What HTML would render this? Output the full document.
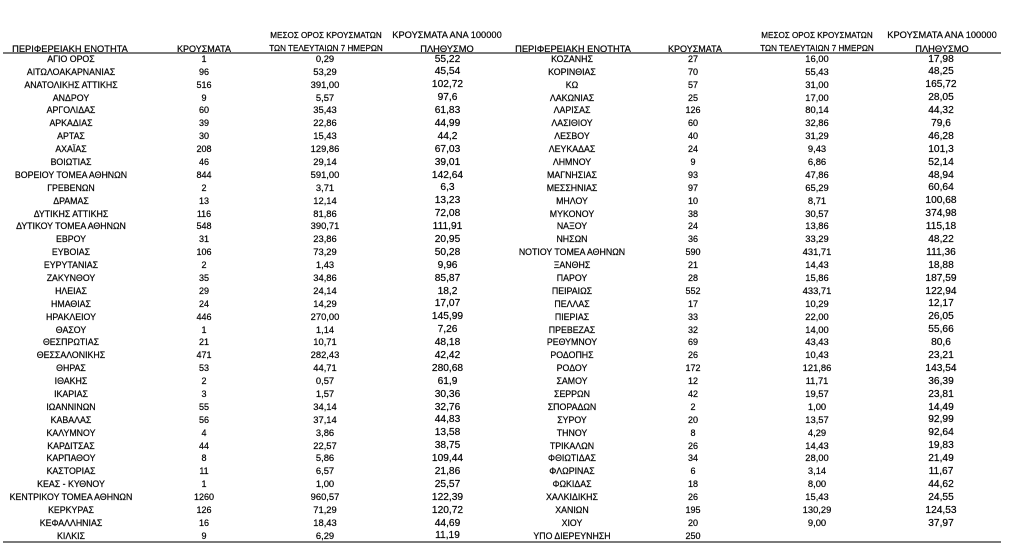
<!DOCTYPE html>
<html><head><meta charset="utf-8">
<style>
html,body{margin:0;padding:0;background:#fff;}
body{width:1014px;height:552px;position:relative;overflow:hidden;font-family:"Liberation Sans",Arial,sans-serif;color:#000;-webkit-text-stroke:0.2px #000;}
.h{position:absolute;text-align:center;white-space:nowrap;line-height:12px;}
.line{position:absolute;left:3px;width:998px;height:2px;background:#7a7a7a;}
.tb{position:absolute;top:52.85px;}
.r{display:flex;height:12.9px;line-height:12.9px;white-space:nowrap;}
.r span{display:block;text-align:center;overflow:visible;}
.a{font-size:8.8px;}
.b{font-size:9px;}
.c{font-size:9.4px;}
.d{font-size:10.2px;position:relative;top:0.7px;}
#L{left:0;} #L .a{width:142px;} #L .b{width:124px;} #L .c{width:118px;} #L .d{width:127px;}
#R{left:511px;} #R .a{width:122px;} #R .b{width:120px;} #R .c{width:128px;} #R .d{width:120px;}
</style></head><body>
<div class="h" style="left:0;width:140px;top:42.5px;font-size:9.3px;">ΠΕΡΙΦΕΡΕΙΑΚΗ ΕΝΟΤΗΤΑ</div>
<div class="h" style="left:144px;width:120px;top:42.5px;font-size:9px;">ΚΡΟΥΣΜΑΤΑ</div>
<div class="h" style="left:266px;width:120px;top:30px;font-size:8.1px;">ΜΕΣΟΣ ΟΡΟΣ ΚΡΟΥΣΜΑΤΩΝ</div>
<div class="h" style="left:266px;width:120px;top:42.5px;font-size:8.1px;">ΤΩΝ ΤΕΛΕΥΤΑΙΩΝ 7 ΗΜΕΡΩΝ</div>
<div class="h" style="left:387px;width:120px;top:29px;font-size:9.3px;">ΚΡΟΥΣΜΑΤΑ ΑΝΑ 100000</div>
<div class="h" style="left:387px;width:120px;top:42.5px;font-size:9.3px;">ΠΛΗΘΥΣΜΟ</div>

<div class="h" style="left:503px;width:140px;top:42.5px;font-size:9.3px;">ΠΕΡΙΦΕΡΕΙΑΚΗ ΕΝΟΤΗΤΑ</div>
<div class="h" style="left:635px;width:120px;top:42.5px;font-size:9px;">ΚΡΟΥΣΜΑΤΑ</div>
<div class="h" style="left:757px;width:120px;top:30px;font-size:8.1px;">ΜΕΣΟΣ ΟΡΟΣ ΚΡΟΥΣΜΑΤΩΝ</div>
<div class="h" style="left:757px;width:120px;top:42.5px;font-size:8.1px;">ΤΩΝ ΤΕΛΕΥΤΑΙΩΝ 7 ΗΜΕΡΩΝ</div>
<div class="h" style="left:882px;width:120px;top:29px;font-size:9.3px;">ΚΡΟΥΣΜΑΤΑ ΑΝΑ 100000</div>
<div class="h" style="left:882px;width:120px;top:42.5px;font-size:9.3px;">ΠΛΗΘΥΣΜΟ</div>

<div class="line" style="top:51.5px;"></div>
<div class="line" style="top:540.5px;"></div>

<div class="tb" id="L">
<div class="r"><span class="a">ΑΓΙΟ ΟΡΟΣ</span><span class="b">1</span><span class="c">0,29</span><span class="d">55,22</span></div>
<div class="r"><span class="a">ΑΙΤΩΛΟΑΚΑΡΝΑΝΙΑΣ</span><span class="b">96</span><span class="c">53,29</span><span class="d">45,54</span></div>
<div class="r"><span class="a">ΑΝΑΤΟΛΙΚΗΣ ΑΤΤΙΚΗΣ</span><span class="b">516</span><span class="c">391,00</span><span class="d">102,72</span></div>
<div class="r"><span class="a">ΑΝΔΡΟΥ</span><span class="b">9</span><span class="c">5,57</span><span class="d">97,6</span></div>
<div class="r"><span class="a">ΑΡΓΟΛΙΔΑΣ</span><span class="b">60</span><span class="c">35,43</span><span class="d">61,83</span></div>
<div class="r"><span class="a">ΑΡΚΑΔΙΑΣ</span><span class="b">39</span><span class="c">22,86</span><span class="d">44,99</span></div>
<div class="r"><span class="a">ΑΡΤΑΣ</span><span class="b">30</span><span class="c">15,43</span><span class="d">44,2</span></div>
<div class="r"><span class="a">ΑΧΑΪΑΣ</span><span class="b">208</span><span class="c">129,86</span><span class="d">67,03</span></div>
<div class="r"><span class="a">ΒΟΙΩΤΙΑΣ</span><span class="b">46</span><span class="c">29,14</span><span class="d">39,01</span></div>
<div class="r"><span class="a">ΒΟΡΕΙΟΥ ΤΟΜΕΑ ΑΘΗΝΩΝ</span><span class="b">844</span><span class="c">591,00</span><span class="d">142,64</span></div>
<div class="r"><span class="a">ΓΡΕΒΕΝΩΝ</span><span class="b">2</span><span class="c">3,71</span><span class="d">6,3</span></div>
<div class="r"><span class="a">ΔΡΑΜΑΣ</span><span class="b">13</span><span class="c">12,14</span><span class="d">13,23</span></div>
<div class="r"><span class="a">ΔΥΤΙΚΗΣ ΑΤΤΙΚΗΣ</span><span class="b">116</span><span class="c">81,86</span><span class="d">72,08</span></div>
<div class="r"><span class="a">ΔΥΤΙΚΟΥ ΤΟΜΕΑ ΑΘΗΝΩΝ</span><span class="b">548</span><span class="c">390,71</span><span class="d">111,91</span></div>
<div class="r"><span class="a">ΕΒΡΟΥ</span><span class="b">31</span><span class="c">23,86</span><span class="d">20,95</span></div>
<div class="r"><span class="a">ΕΥΒΟΙΑΣ</span><span class="b">106</span><span class="c">73,29</span><span class="d">50,28</span></div>
<div class="r"><span class="a">ΕΥΡΥΤΑΝΙΑΣ</span><span class="b">2</span><span class="c">1,43</span><span class="d">9,96</span></div>
<div class="r"><span class="a">ΖΑΚΥΝΘΟΥ</span><span class="b">35</span><span class="c">34,86</span><span class="d">85,87</span></div>
<div class="r"><span class="a">ΗΛΕΙΑΣ</span><span class="b">29</span><span class="c">24,14</span><span class="d">18,2</span></div>
<div class="r"><span class="a">ΗΜΑΘΙΑΣ</span><span class="b">24</span><span class="c">14,29</span><span class="d">17,07</span></div>
<div class="r"><span class="a">ΗΡΑΚΛΕΙΟΥ</span><span class="b">446</span><span class="c">270,00</span><span class="d">145,99</span></div>
<div class="r"><span class="a">ΘΑΣΟΥ</span><span class="b">1</span><span class="c">1,14</span><span class="d">7,26</span></div>
<div class="r"><span class="a">ΘΕΣΠΡΩΤΙΑΣ</span><span class="b">21</span><span class="c">10,71</span><span class="d">48,18</span></div>
<div class="r"><span class="a">ΘΕΣΣΑΛΟΝΙΚΗΣ</span><span class="b">471</span><span class="c">282,43</span><span class="d">42,42</span></div>
<div class="r"><span class="a">ΘΗΡΑΣ</span><span class="b">53</span><span class="c">44,71</span><span class="d">280,68</span></div>
<div class="r"><span class="a">ΙΘΑΚΗΣ</span><span class="b">2</span><span class="c">0,57</span><span class="d">61,9</span></div>
<div class="r"><span class="a">ΙΚΑΡΙΑΣ</span><span class="b">3</span><span class="c">1,57</span><span class="d">30,36</span></div>
<div class="r"><span class="a">ΙΩΑΝΝΙΝΩΝ</span><span class="b">55</span><span class="c">34,14</span><span class="d">32,76</span></div>
<div class="r"><span class="a">ΚΑΒΑΛΑΣ</span><span class="b">56</span><span class="c">37,14</span><span class="d">44,83</span></div>
<div class="r"><span class="a">ΚΑΛΥΜΝΟΥ</span><span class="b">4</span><span class="c">3,86</span><span class="d">13,58</span></div>
<div class="r"><span class="a">ΚΑΡΔΙΤΣΑΣ</span><span class="b">44</span><span class="c">22,57</span><span class="d">38,75</span></div>
<div class="r"><span class="a">ΚΑΡΠΑΘΟΥ</span><span class="b">8</span><span class="c">5,86</span><span class="d">109,44</span></div>
<div class="r"><span class="a">ΚΑΣΤΟΡΙΑΣ</span><span class="b">11</span><span class="c">6,57</span><span class="d">21,86</span></div>
<div class="r"><span class="a">ΚΕΑΣ - ΚΥΘΝΟΥ</span><span class="b">1</span><span class="c">1,00</span><span class="d">25,57</span></div>
<div class="r"><span class="a">ΚΕΝΤΡΙΚΟΥ ΤΟΜΕΑ ΑΘΗΝΩΝ</span><span class="b">1260</span><span class="c">960,57</span><span class="d">122,39</span></div>
<div class="r"><span class="a">ΚΕΡΚΥΡΑΣ</span><span class="b">126</span><span class="c">71,29</span><span class="d">120,72</span></div>
<div class="r"><span class="a">ΚΕΦΑΛΛΗΝΙΑΣ</span><span class="b">16</span><span class="c">18,43</span><span class="d">44,69</span></div>
<div class="r"><span class="a">ΚΙΛΚΙΣ</span><span class="b">9</span><span class="c">6,29</span><span class="d">11,19</span></div>
</div>

<div class="tb" id="R">
<div class="r"><span class="a">ΚΟΖΑΝΗΣ</span><span class="b">27</span><span class="c">16,00</span><span class="d">17,98</span></div>
<div class="r"><span class="a">ΚΟΡΙΝΘΙΑΣ</span><span class="b">70</span><span class="c">55,43</span><span class="d">48,25</span></div>
<div class="r"><span class="a">ΚΩ</span><span class="b">57</span><span class="c">31,00</span><span class="d">165,72</span></div>
<div class="r"><span class="a">ΛΑΚΩΝΙΑΣ</span><span class="b">25</span><span class="c">17,00</span><span class="d">28,05</span></div>
<div class="r"><span class="a">ΛΑΡΙΣΑΣ</span><span class="b">126</span><span class="c">80,14</span><span class="d">44,32</span></div>
<div class="r"><span class="a">ΛΑΣΙΘΙΟΥ</span><span class="b">60</span><span class="c">32,86</span><span class="d">79,6</span></div>
<div class="r"><span class="a">ΛΕΣΒΟΥ</span><span class="b">40</span><span class="c">31,29</span><span class="d">46,28</span></div>
<div class="r"><span class="a">ΛΕΥΚΑΔΑΣ</span><span class="b">24</span><span class="c">9,43</span><span class="d">101,3</span></div>
<div class="r"><span class="a">ΛΗΜΝΟΥ</span><span class="b">9</span><span class="c">6,86</span><span class="d">52,14</span></div>
<div class="r"><span class="a">ΜΑΓΝΗΣΙΑΣ</span><span class="b">93</span><span class="c">47,86</span><span class="d">48,94</span></div>
<div class="r"><span class="a">ΜΕΣΣΗΝΙΑΣ</span><span class="b">97</span><span class="c">65,29</span><span class="d">60,64</span></div>
<div class="r"><span class="a">ΜΗΛΟΥ</span><span class="b">10</span><span class="c">8,71</span><span class="d">100,68</span></div>
<div class="r"><span class="a">ΜΥΚΟΝΟΥ</span><span class="b">38</span><span class="c">30,57</span><span class="d">374,98</span></div>
<div class="r"><span class="a">ΝΑΞΟΥ</span><span class="b">24</span><span class="c">13,86</span><span class="d">115,18</span></div>
<div class="r"><span class="a">ΝΗΣΩΝ</span><span class="b">36</span><span class="c">33,29</span><span class="d">48,22</span></div>
<div class="r"><span class="a">ΝΟΤΙΟΥ ΤΟΜΕΑ ΑΘΗΝΩΝ</span><span class="b">590</span><span class="c">431,71</span><span class="d">111,36</span></div>
<div class="r"><span class="a">ΞΑΝΘΗΣ</span><span class="b">21</span><span class="c">14,43</span><span class="d">18,88</span></div>
<div class="r"><span class="a">ΠΑΡΟΥ</span><span class="b">28</span><span class="c">15,86</span><span class="d">187,59</span></div>
<div class="r"><span class="a">ΠΕΙΡΑΙΩΣ</span><span class="b">552</span><span class="c">433,71</span><span class="d">122,94</span></div>
<div class="r"><span class="a">ΠΕΛΛΑΣ</span><span class="b">17</span><span class="c">10,29</span><span class="d">12,17</span></div>
<div class="r"><span class="a">ΠΙΕΡΙΑΣ</span><span class="b">33</span><span class="c">22,00</span><span class="d">26,05</span></div>
<div class="r"><span class="a">ΠΡΕΒΕΖΑΣ</span><span class="b">32</span><span class="c">14,00</span><span class="d">55,66</span></div>
<div class="r"><span class="a">ΡΕΘΥΜΝΟΥ</span><span class="b">69</span><span class="c">43,43</span><span class="d">80,6</span></div>
<div class="r"><span class="a">ΡΟΔΟΠΗΣ</span><span class="b">26</span><span class="c">10,43</span><span class="d">23,21</span></div>
<div class="r"><span class="a">ΡΟΔΟΥ</span><span class="b">172</span><span class="c">121,86</span><span class="d">143,54</span></div>
<div class="r"><span class="a">ΣΑΜΟΥ</span><span class="b">12</span><span class="c">11,71</span><span class="d">36,39</span></div>
<div class="r"><span class="a">ΣΕΡΡΩΝ</span><span class="b">42</span><span class="c">19,57</span><span class="d">23,81</span></div>
<div class="r"><span class="a">ΣΠΟΡΑΔΩΝ</span><span class="b">2</span><span class="c">1,00</span><span class="d">14,49</span></div>
<div class="r"><span class="a">ΣΥΡΟΥ</span><span class="b">20</span><span class="c">13,57</span><span class="d">92,99</span></div>
<div class="r"><span class="a">ΤΗΝΟΥ</span><span class="b">8</span><span class="c">4,29</span><span class="d">92,64</span></div>
<div class="r"><span class="a">ΤΡΙΚΑΛΩΝ</span><span class="b">26</span><span class="c">14,43</span><span class="d">19,83</span></div>
<div class="r"><span class="a">ΦΘΙΩΤΙΔΑΣ</span><span class="b">34</span><span class="c">28,00</span><span class="d">21,49</span></div>
<div class="r"><span class="a">ΦΛΩΡΙΝΑΣ</span><span class="b">6</span><span class="c">3,14</span><span class="d">11,67</span></div>
<div class="r"><span class="a">ΦΩΚΙΔΑΣ</span><span class="b">18</span><span class="c">8,00</span><span class="d">44,62</span></div>
<div class="r"><span class="a">ΧΑΛΚΙΔΙΚΗΣ</span><span class="b">26</span><span class="c">15,43</span><span class="d">24,55</span></div>
<div class="r"><span class="a">ΧΑΝΙΩΝ</span><span class="b">195</span><span class="c">130,29</span><span class="d">124,53</span></div>
<div class="r"><span class="a">ΧΙΟΥ</span><span class="b">20</span><span class="c">9,00</span><span class="d">37,97</span></div>
<div class="r"><span class="a">ΥΠΟ ΔΙΕΡΕΥΝΗΣΗ</span><span class="b">250</span><span class="c"></span><span class="d"></span></div>
</div>
</body></html>
